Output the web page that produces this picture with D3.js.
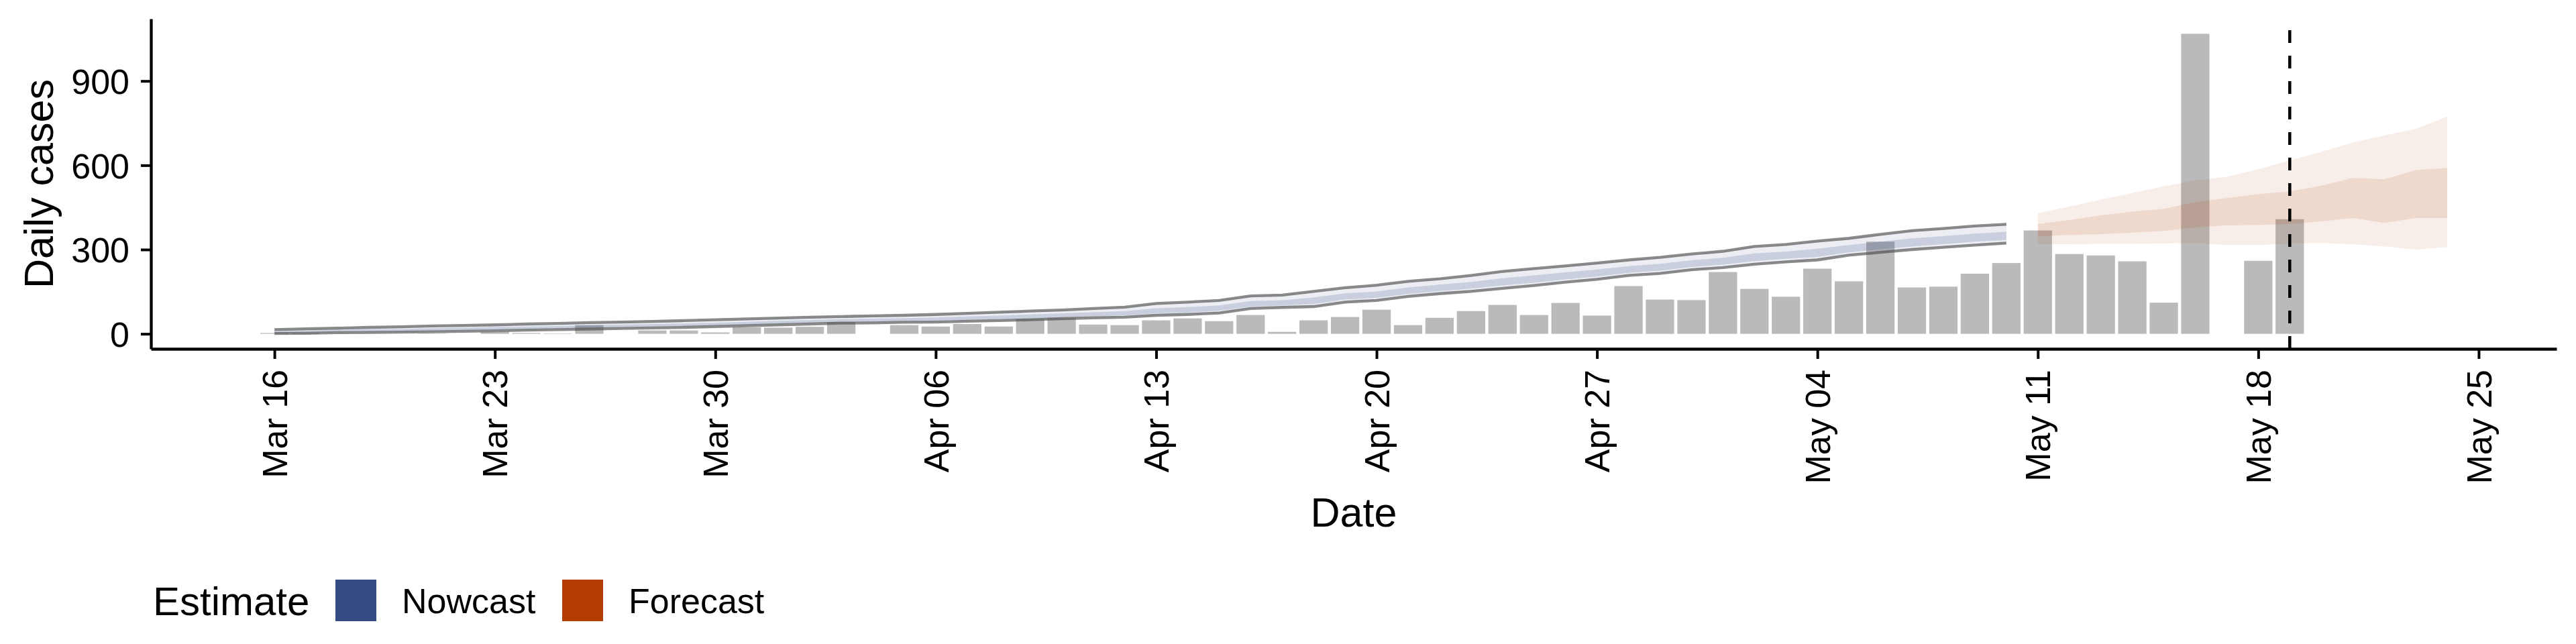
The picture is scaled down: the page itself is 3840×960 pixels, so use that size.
<!DOCTYPE html>
<html>
<head>
<meta charset="utf-8">
<script src="https://cdn.jsdelivr.net/npm/d3@7"></script>
<style>
  body { margin: 0; background: #fff; }
  svg { display: block; font-family: "Liberation Sans", Arial, Helvetica, sans-serif; }
</style>
</head>
<body>
<svg id="chart" width="3840" height="960"></svg>
<script>
// reported daily cases, one value per day from caseStart (null = nothing reported)
const caseStart = "2020-03-16";
const dailyCases = [
    3, 3, null, null, null, 1, null, 7, 3, 1.5, 31, null, 12, 12, 5, 23, 22, 25,
    42, null, 31, 26, 35, 26, 53, 57, 33, 31, 48, 55, 45, 67, 7, 48, 60, 86, 31,
    57, 81, 103, 67, 110, 65, 170, 122, 120, 220, 160, 132, 232, 187, 328, 165, 168, 214, 252,
    368, 284, 279, 258, 111, 1068, null, 260, 408
];

// nowcast credible intervals, daily from nowcastStart
const nowcastStart = "2020-03-16";
const nowUpper90 = [
    15, 18, 20, 23, 25, 28, 30, 32, 35, 37, 40, 42, 44, 47, 50, 53, 56, 59,
    61.5, 64, 66, 69, 73, 77, 81, 85, 90, 95, 108, 113, 119, 135, 138, 151, 164, 173, 187,
    196, 208, 222, 232, 242, 252, 263, 272, 284, 294, 311, 318, 330, 340, 354, 367, 375, 384, 390
];
const nowUpper50 = [
    9, 12, 14, 16, 17, 20, 22, 24, 26, 28, 31, 33, 35, 37, 40, 43, 46, 49,
    52, 54, 56, 58, 62, 65, 69, 73, 77, 81, 91, 95, 101, 117, 120, 129, 144, 151, 165,
    175, 185, 198, 208, 219, 229, 241, 249, 262, 271, 286, 293, 303, 316, 328, 340, 348, 357, 363
];
const nowLower50 = [
    3, 5, 7, 8, 9, 11, 13, 15, 17, 19, 21, 23, 25, 27, 30, 33, 36, 39,
    42, 43, 45, 47, 50, 52, 55, 59, 63, 65, 73, 76, 82, 97, 101, 106, 122, 128, 142,
    152, 161, 172, 182, 194, 204, 217, 225, 238, 246, 259, 267, 274, 290, 301, 311, 319, 328, 334
];
const nowLower90 = [
    1, 2, 4, 5, 6, 7, 9, 11, 13, 15, 17, 19, 21, 23, 26, 29, 32, 35,
    38, 39, 41, 42, 45, 47, 50, 54, 57, 59, 66, 69, 74, 90, 94, 97, 113, 119, 133,
    143, 151, 162, 172, 184, 194, 208, 215, 228, 236, 248, 256, 263, 280, 290, 300, 308, 316, 323
];

// forecast credible intervals, daily from forecastStart
const forecastStart = "2020-05-11";
const foreUpper90 = [429, 453, 478, 501, 525, 546, 559, 586, 617, 648, 681, 706, 730, 773];
const foreUpper50 = [391, 405, 422, 435, 445, 469, 483, 497, 507, 527, 555, 550, 583, 590];
const foreLower50 = [347, 352, 355, 360, 366, 379, 386, 388, 391, 400, 412, 395, 412, 412];
const foreLower90 = [319, 319, 320, 320, 322, 323, 316, 316, 321, 323, 319, 311, 300, 309];

const xTickDates = ["2020-03-16", "2020-03-23", "2020-03-30", "2020-04-06", "2020-04-13", "2020-04-20",
    "2020-04-27", "2020-05-04", "2020-05-11", "2020-05-18", "2020-05-25"];
const yTicks = [0, 300, 600, 900];
const estimateDate = "2020-05-19";
const legendItems = ["Nowcast", "Forecast"];

const nowcastColor = "#344b84";
const forecastColor = "#b33c00";

const parse = d3.utcParse("%Y-%m-%d");
const DAY = 864e5;

const cases = dailyCases
    .map((v, i) => ({date: d3.utcDay.offset(parse(caseStart), i), value: v}))
    .filter(d => d.value !== null);
const nowcast = nowUpper90.map((u, i) => ({
    date: d3.utcDay.offset(parse(nowcastStart), i),
    u90: u, u50: nowUpper50[i], l50: nowLower50[i], l90: nowLower90[i]
}));
const forecast = foreUpper90.map((u, i) => ({
    date: d3.utcDay.offset(parse(forecastStart), i),
    u90: u, u50: foreUpper50[i], l50: foreLower50[i], l90: foreLower90[i]
}));

const panel = {left: 225, right: 3811, top: 28, bottom: 520};
const halfBar = 0.45 * DAY;

// ggplot style 5% expansion on both scales
const xMin = Math.min(+cases[0].date - halfBar, +nowcast[0].date);
const xMax = Math.max(+cases[cases.length - 1].date + halfBar, +forecast[forecast.length - 1].date);
const xPad = 0.05 * (xMax - xMin);
const x = d3.scaleUtc()
    .domain([new Date(xMin - xPad), new Date(xMax + xPad)])
    .range([panel.left, panel.right]);

const yMax = d3.max([d3.max(cases, d => d.value), d3.max(nowcast, d => d.u90), d3.max(forecast, d => d.u90)]);
const y = d3.scaleLinear()
    .domain([-0.05 * yMax, 1.05 * yMax])
    .range([panel.bottom, panel.top]);

const svg = d3.select("#chart");

// bars
svg.append("g")
    .selectAll("rect")
    .data(cases)
    .join("rect")
    .attr("x", d => x(new Date(+d.date - halfBar)))
    .attr("width", d => x(new Date(+d.date + halfBar)) - x(new Date(+d.date - halfBar)))
    .attr("y", d => y(d.value))
    .attr("height", d => y(0) - y(d.value))
    .attr("fill", "#bababa");

// ribbons
function band(lo, hi) {
    return d3.area().x(d => x(d.date)).y0(d => y(d[lo])).y1(d => y(d[hi]));
}
const ribbons = svg.append("g");
ribbons.append("path").datum(nowcast).attr("d", band("l90", "u90"))
    .attr("fill", nowcastColor).attr("fill-opacity", 0.093);
ribbons.append("path").datum(nowcast).attr("d", band("l50", "u50"))
    .attr("fill", nowcastColor).attr("fill-opacity", 0.19);
ribbons.append("path").datum(forecast).attr("d", band("l90", "u90"))
    .attr("fill", forecastColor).attr("fill-opacity", 0.085);
ribbons.append("path").datum(forecast).attr("d", band("l50", "u50"))
    .attr("fill", forecastColor).attr("fill-opacity", 0.12);

// nowcast interval outline
["u90", "l90"].forEach(k => {
    svg.append("path").datum(nowcast)
        .attr("d", d3.line().x(d => x(d.date)).y(d => y(d[k])))
        .attr("fill", "none")
        .attr("stroke", "#4d4d4d")
        .attr("stroke-opacity", 0.65)
        .attr("stroke-width", 4.3);
});

// axes
const xAxis = svg.append("g")
    .attr("transform", `translate(0,${panel.bottom})`)
    .call(d3.axisBottom(x)
        .tickValues(xTickDates.map(parse))
        .tickFormat(d3.utcFormat("%b %d"))
        .tickSize(15)
        .tickSizeOuter(0));
xAxis.select(".domain").attr("stroke", "#000").attr("stroke-width", 4.3);
xAxis.selectAll(".tick line").attr("stroke", "#000").attr("stroke-width", 4);
xAxis.selectAll(".tick text")
    .attr("transform", "rotate(-90)")
    .attr("x", -31)
    .attr("y", 0)
    .attr("dy", "0.35em")
    .attr("text-anchor", "end")
    .attr("fill", "#000")
    .attr("font-size", 52);

const yAxis = svg.append("g")
    .attr("transform", `translate(${panel.left},0)`)
    .call(d3.axisLeft(y)
        .tickValues(yTicks)
        .tickSize(15)
        .tickPadding(17)
        .tickSizeOuter(0));
yAxis.select(".domain").attr("stroke", "#000").attr("stroke-width", 4.3);
yAxis.selectAll(".tick line").attr("stroke", "#000").attr("stroke-width", 4);
yAxis.selectAll(".tick text")
    .attr("fill", "#000")
    .attr("font-size", 52)
    .attr("dy", "0.36em");
xAxis.attr("font-family", null);
yAxis.attr("font-family", null);

// date of estimate
svg.append("line")
    .attr("x1", x(parse(estimateDate))).attr("x2", x(parse(estimateDate)))
    .attr("y1", panel.bottom).attr("y2", panel.top)
    .attr("stroke", "#000")
    .attr("stroke-width", 4.5)
    .attr("stroke-dasharray", "19,19");

// axis titles
svg.append("text")
    .attr("x", (panel.left + panel.right) / 2)
    .attr("y", 785)
    .attr("text-anchor", "middle")
    .attr("font-size", 61)
    .text("Date");
svg.append("text")
    .attr("transform", `translate(79,${(panel.top + panel.bottom) / 2}) rotate(-90)`)
    .attr("text-anchor", "middle")
    .attr("font-size", 61)
    .text("Daily cases");

// legend
const legend = svg.append("g");
legend.append("text")
    .attr("x", 228).attr("y", 917)
    .attr("font-size", 60)
    .text("Estimate");
const keyX = [500, 838];
legendItems.forEach((name, i) => {
    legend.append("rect")
        .attr("x", keyX[i]).attr("y", 864)
        .attr("width", 61).attr("height", 62)
        .attr("fill", i === 0 ? nowcastColor : forecastColor);
    legend.append("text")
        .attr("x", keyX[i] + 99).attr("y", 914)
        .attr("font-size", 52)
        .text(name);
});
</script>
</body>
</html>
